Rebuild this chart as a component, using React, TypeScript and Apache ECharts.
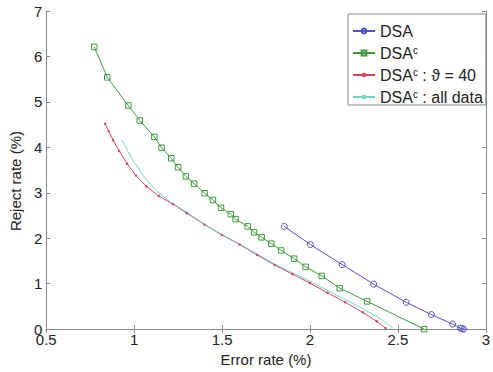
import React, { useEffect, useRef } from "react";
import * as echarts from "echarts";

const xMin = 0.5;
const xMax = 3;
const xStep = 0.5;
const yMin = 0;
const yMax = 7;
const yStep = 1;

const dsaErr = [1.854, 2.002, 2.183, 2.362, 2.547, 2.69, 2.811, 2.855, 2.865, 2.875];
const dsaRej = [2.26, 1.86, 1.42, 0.99, 0.59, 0.32, 0.11, 0.02, 0.01, 0.0];

const dsacErr = [0.773, 0.847, 0.967, 1.032, 1.115, 1.156, 1.211, 1.25, 1.294, 1.341, 1.401, 1.448, 1.494, 1.549, 1.577, 1.646, 1.682, 1.725, 1.78, 1.836, 1.91, 1.975, 2.067, 2.169, 2.325, 2.649];
const dsacRej = [6.21, 5.54, 4.92, 4.59, 4.23, 3.99, 3.76, 3.56, 3.36, 3.2, 2.99, 2.84, 2.67, 2.53, 2.42, 2.26, 2.13, 2.02, 1.88, 1.73, 1.55, 1.37, 1.17, 0.9, 0.61, 0.0];

const th40Err = [0.835, 0.855, 0.88, 0.915, 0.96, 1.01, 1.07, 1.14, 1.22, 1.3, 1.4, 1.5, 1.6, 1.7, 1.8, 1.9, 2.0, 2.1, 2.2, 2.3, 2.38, 2.43];
const th40Rej = [4.52, 4.36, 4.16, 3.92, 3.64, 3.38, 3.14, 2.93, 2.75, 2.55, 2.3, 2.07, 1.86, 1.63, 1.41, 1.21, 1.01, 0.8, 0.59, 0.37, 0.17, 0.02];

const allErr = [0.93, 0.986, 1.06, 1.134, 1.207, 1.3, 1.4, 1.5, 1.6, 1.7, 1.8, 1.9, 2.0, 2.1, 2.2, 2.3, 2.4, 2.47];
const allRej = [4.16, 3.76, 3.33, 3.02, 2.79, 2.57, 2.31, 2.08, 1.87, 1.65, 1.43, 1.24, 1.05, 0.85, 0.65, 0.45, 0.23, 0.03];

const seriesNames = ["DSA", "DSAc", "DSAc40", "DSAcAll"];
const legendLabels: Record<string, string> = {
  DSA: "DSA",
  DSAc: "DSA{s|c}",
  DSAc40: "DSA{s|c} : ϑ = 40",
  DSAcAll: "DSA{s|c} : all data",
};

const xTitle = "Error rate (%)";
const yTitle = "Reject rate (%)";

const pairs = (xs: number[], ys: number[]) => xs.map((x, i) => [x, ys[i]]);

const FONT = "'Liberation Sans', Arial, 'DejaVu Sans', sans-serif";
const AXIS = "#8a8a8a";
const TEXT = "#222";
const BLUE = "#5252cc";
const GREEN = "#3f9a3f";
const RED = "#d4485a";
const CYAN = "#6ed8c6";

export default function App() {
  const ref = useRef<HTMLDivElement>(null);
  useEffect(() => {
    if (!ref.current) return;
    const chart = echarts.init(ref.current, undefined, { renderer: "svg" });
    const baseX = {
      type: "value" as const,
      min: xMin,
      max: xMax,
      interval: xStep,
      splitLine: { show: false },
      axisLine: { show: true, lineStyle: { color: AXIS, width: 1 } },
      axisTick: { show: true, inside: true, length: 4, lineStyle: { color: AXIS } },
    };
    const baseY = {
      type: "value" as const,
      min: yMin,
      max: yMax,
      interval: yStep,
      splitLine: { show: false },
      axisLine: { show: true, lineStyle: { color: AXIS, width: 1 } },
      axisTick: { show: true, inside: true, length: 4, lineStyle: { color: AXIS } },
    };
    chart.setOption({
      animation: false,
      backgroundColor: "#fff",
      textStyle: { fontFamily: FONT },
      grid: { left: 41, right: 2, top: 11, bottom: 39, containLabel: false },
      legend: {
        data: seriesNames,
        orient: "vertical",
        left: 348,
        top: 14,
        padding: [9, 3, 0, 4],
        itemGap: 6,
        itemWidth: 22,
        itemHeight: 6,
        backgroundColor: "#fff",
        borderColor: AXIS,
        borderWidth: 1,
        formatter: (name: string) => legendLabels[name],
        textStyle: {
          fontSize: 16,
          color: TEXT,
          fontFamily: FONT,
          lineHeight: 16,
          rich: {
            s: { fontSize: 10, lineHeight: 10, verticalAlign: "top", color: TEXT, fontFamily: FONT },
          },
        },
      },
      xAxis: [
        {
          ...baseX,
          position: "bottom",
          name: xTitle,
          nameLocation: "middle",
          nameGap: 20,
          nameTextStyle: { fontSize: 15, color: TEXT, fontFamily: FONT },
          axisLabel: { fontSize: 15, color: TEXT, margin: 3, fontFamily: FONT, formatter: (v: number) => String(v) },
        },
        { ...baseX, position: "top", axisLabel: { show: false } },
      ],
      yAxis: [
        {
          ...baseY,
          position: "left",
          name: yTitle,
          nameLocation: "middle",
          nameGap: 15,
          nameTextStyle: { fontSize: 15, color: TEXT, fontFamily: FONT, padding: [0, 22, 0, 0] },
          axisLabel: { fontSize: 15, color: TEXT, margin: 4, fontFamily: FONT },
        },
        { ...baseY, position: "right", axisLabel: { show: false } },
      ],
      series: [
        {
          name: "DSA",
          type: "line",
          data: pairs(dsaErr, dsaRej),
          symbol: "circle",
          symbolSize: 6,
          lineStyle: { color: BLUE, width: 1 },
          itemStyle: { color: "rgba(255,255,255,0)", borderColor: BLUE, borderWidth: 1 },
        },
        {
          name: "DSAc",
          type: "line",
          data: pairs(dsacErr, dsacRej),
          symbol: "rect",
          symbolSize: 5.5,
          lineStyle: { color: GREEN, width: 1 },
          itemStyle: { color: "rgba(255,255,255,0)", borderColor: GREEN, borderWidth: 1 },
        },
        {
          name: "DSAc40",
          type: "line",
          data: pairs(th40Err, th40Rej),
          symbol: "circle",
          symbolSize: 2.5,
          lineStyle: { color: RED, width: 1 },
          itemStyle: { color: RED },
        },
        {
          name: "DSAcAll",
          type: "line",
          data: pairs(allErr, allRej),
          symbol: "none",
          lineStyle: { color: CYAN, width: 1 },
          itemStyle: { color: CYAN },
        },
      ],
    });
    return () => chart.dispose();
  }, []);
  return <div ref={ref} style={{ width: 493, height: 372, position: "absolute", left: 0, top: 0 }} />;
}
